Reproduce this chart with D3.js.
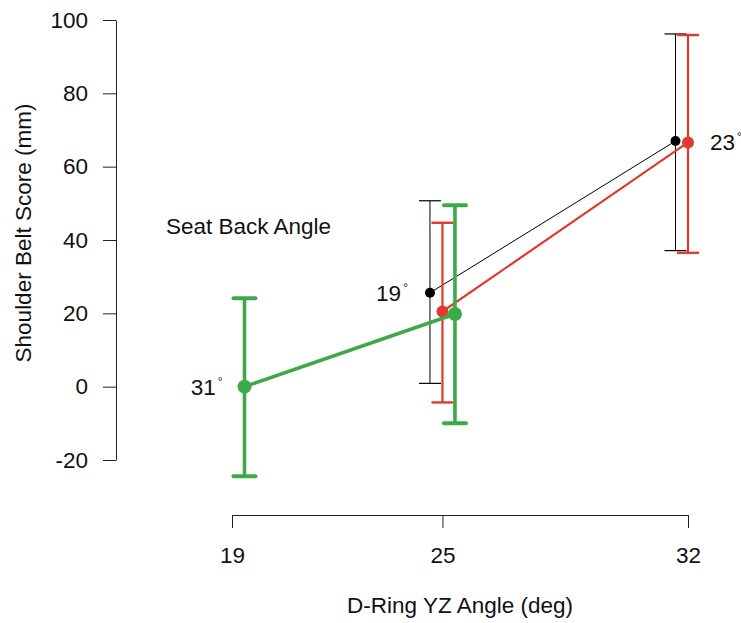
<!DOCTYPE html>
<html>
<head>
<meta charset="utf-8">
<script src="https://cdn.jsdelivr.net/npm/d3@7"></script>
<style>
  body { margin: 0; background: #fff; }
  svg text { font-family: "Liberation Sans", Arial, sans-serif; fill: #111; }
</style>
</head>
<body>
<div id="viz"></div>
<script>
// D-Ring YZ angle (deg) on the x axis
const xTicks = [19, 25, 32];
const yTicks = [-20, 0, 20, 40, 60, 80, 100];

// seat back angle groups
const seatAngles = ["19", "23", "31"];

// mean shoulder belt score with lower / upper interval, per seat back angle
const ringAngles19 = [25, 32];
const mean19 = [25.6, 67.0];
const lower19 = [0.9, 37.1];
const upper19 = [50.7, 96.2];

const ringAngles23 = [25, 32];
const mean23 = [20.5, 66.6];
const lower23 = [-4.3, 36.5];
const upper23 = [44.7, 95.9];

const ringAngles31 = [19, 25];
const mean31 = [0, 19.8];
const lower31 = [-24.4, -10];
const upper31 = [24.1, 49.5];

const series = [
  {name: seatAngles[0], xs: ringAngles19, mean: mean19, lo: lower19, hi: upper19,
   color: "#000000", lw: 1, r: 5, capW: 1.2, dodge: -12.5, label: "left"},
  {name: seatAngles[1], xs: ringAngles23, mean: mean23, lo: lower23, hi: upper23,
   color: "#E0392E", lw: 2.2, r: 6, capW: 2.4, dodge: 0, label: "right"},
  {name: seatAngles[2], xs: ringAngles31, mean: mean31, lo: lower31, hi: upper31,
   color: "#3DAA4A", lw: 3.6, r: 7, capW: 4, dodge: 12.5, label: "left"}
];

const width = 741, height = 623;
const fs = 22.5;

const svg = d3.select("#viz")
  .append("svg")
  .attr("width", width)
  .attr("height", height);

const x = d3.scaleLinear().domain([19, 32]).range([232, 688]);
const y = d3.scaleLinear().domain([-20, 100]).range([460, 20]);

const styleAxis = g => {
  g.select(".domain").attr("stroke", "#222");
  g.selectAll(".tick line").attr("stroke", "#222");
  g.selectAll(".tick text")
    .attr("font-size", fs)
    .attr("font-family", "Liberation Sans, Arial, sans-serif")
    .attr("fill", "#111");
};

// y axis
svg.append("g")
  .attr("transform", "translate(116,0)")
  .call(d3.axisLeft(y).tickValues(yTicks).tickFormat(d => String(d))
    .tickSize(13).tickPadding(15).tickSizeOuter(0))
  .call(styleAxis);

// x axis
svg.append("g")
  .attr("transform", "translate(0,515)")
  .call(d3.axisBottom(x).tickValues(xTicks).tickFormat(d => String(d))
    .tickSize(13).tickPadding(19).tickSizeOuter(0))
  .call(styleAxis);

svg.append("text")
  .attr("transform", "translate(31,233) rotate(-90)")
  .attr("text-anchor", "middle")
  .attr("font-size", fs)
  .text("Shoulder Belt Score (mm)");

svg.append("text")
  .attr("x", 460).attr("y", 613)
  .attr("text-anchor", "middle")
  .attr("font-size", fs)
  .text("D-Ring YZ Angle (deg)");

svg.append("text")
  .attr("x", 166).attr("y", 234)
  .attr("font-size", fs)
  .text("Seat Back Angle");

series.forEach(s => {
  const pts = s.xs.map((v, i) => ({px: x(v) + s.dodge, m: s.mean[i], lo: s.lo[i], hi: s.hi[i]}));
  const g = svg.append("g");

  // error bars
  g.selectAll(".bar")
    .data(pts)
    .join("line")
    .attr("x1", d => d.px).attr("x2", d => d.px)
    .attr("y1", d => y(d.lo)).attr("y2", d => y(d.hi))
    .attr("stroke", s.color).attr("stroke-width", s.lw);

  ["lo", "hi"].forEach(k => {
    g.selectAll(".cap-" + k)
      .data(pts)
      .join("line")
      .attr("x1", d => d.px - 11).attr("x2", d => d.px + 11)
      .attr("y1", d => y(d[k])).attr("y2", d => y(d[k]))
      .attr("stroke", s.color).attr("stroke-width", s.capW)
      .attr("stroke-linecap", s.capW > 3 ? "round" : "butt");
  });

  // line through means
  g.append("path")
    .datum(pts)
    .attr("d", d3.line().x(d => d.px).y(d => y(d.m)))
    .attr("fill", "none")
    .attr("stroke", s.color).attr("stroke-width", s.lw);

  g.selectAll(".pt")
    .data(pts)
    .join("circle")
    .attr("cx", d => d.px).attr("cy", d => y(d.m))
    .attr("r", s.r).attr("fill", s.color);

  // group label
  const lp = s.label === "left" ? pts[0] : pts[pts.length - 1];
  const t = svg.append("text")
    .attr("font-size", fs)
    .attr("text-anchor", s.label === "left" ? "end" : "start")
    .attr("x", s.label === "left" ? lp.px - 22 : lp.px + 22)
    .attr("y", y(lp.m) + 8);
  t.append("tspan").text(s.name);
  t.append("tspan").attr("font-size", 12).attr("dy", -9).attr("dx", 2).text("°");
});
</script>
</body>
</html>
